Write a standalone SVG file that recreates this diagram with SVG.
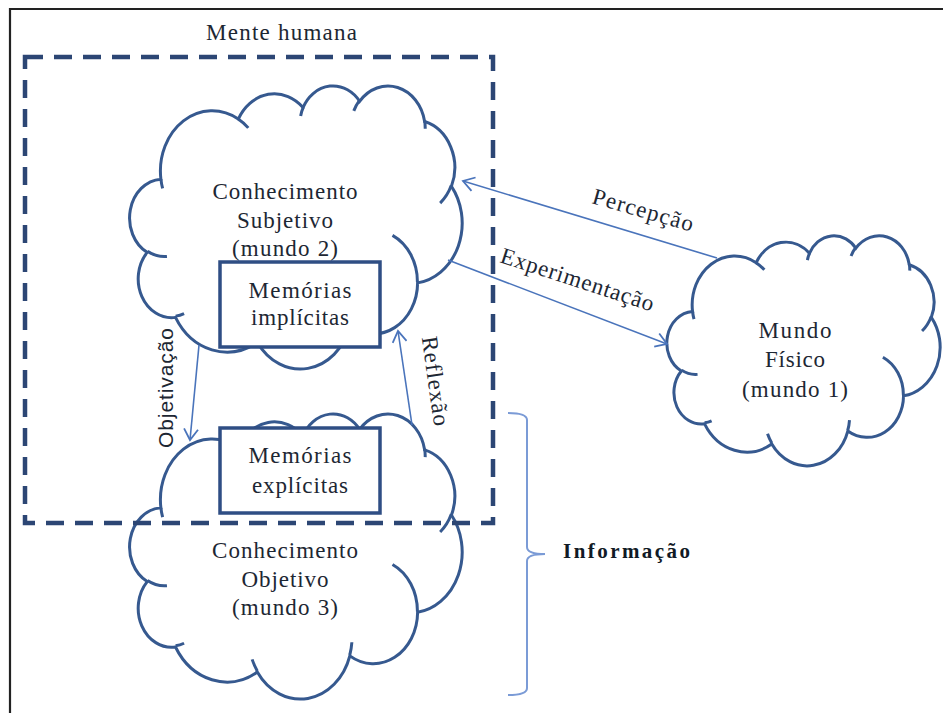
<svg xmlns="http://www.w3.org/2000/svg" xmlns:xlink="http://www.w3.org/1999/xlink" width="943" height="713" viewBox="0 0 943 713">
  <style>
    .frame { fill: none; stroke: #222; stroke-width: 2.2; }
    .mind { fill: none; stroke: #2c4674; stroke-width: 4.5; stroke-dasharray: 18 11; }
    .cloud-body { fill: #ffffff; stroke: #36598f; stroke-width: 3; }
    .cloud-hook { fill: none; stroke: #36598f; stroke-width: 3; }
    .box { fill: #ffffff; stroke: #2f4e84; stroke-width: 3.5; }
    .flow { fill: none; stroke: #4a74bb; stroke-width: 1.6; }
    .brace { fill: none; stroke: #7b9bd6; stroke-width: 2; }
    .t { font-family: "Liberation Serif", "Times New Roman", serif; font-size: 23px; fill: #1d2733; text-anchor: middle; }
    .ts { font-family: "Liberation Sans", Arial, sans-serif; font-size: 21px; fill: #1d2733; text-anchor: middle; }
    .tb { font-family: "Liberation Serif", "Times New Roman", serif; font-size: 21px; font-weight: bold; fill: #111a26; }
  </style>
  <defs>
    <!-- cloud outline in a 43200 x 43200 unit box -->
    <g id="cloud">
      <path class="cloud-body" vector-effect="non-scaling-stroke" d="M3900 14370 A6753 9190 0 0 1 14005 5202 A5333 7267 0 0 1 22460 3435 A4365 5945 0 0 1 29838 2484 A4857 6595 0 0 1 38323 5580 A5333 7273 0 0 1 41823 15464 A6775 9220 0 0 1 37408 30206 A5785 7867 0 0 1 28560 36817 A6752 9215 0 0 1 16485 39268 A7720 10543 0 0 1 5807 35471 A4360 5918 0 0 1 2115 25551 A4345 5945 0 0 1 3900 14370 Z"/>
      <path class="cloud-hook" vector-effect="non-scaling-stroke" d="M4693 26177 A4345 5945 0 0 1 2159 25379 M6928 34899 A4360 5918 0 0 1 5819 35281 M16478 39090 A6752 9215 0 0 1 15810 37348 M28827 34751 A6752 9215 0 0 1 28560 36661 M34129 22954 A5785 7867 0 0 1 37381 30090 M41798 15354 A5333 7273 0 0 1 40350 18030 M38324 5426 A4857 6595 0 0 1 38400 6690 M29078 3952 A4857 6595 0 0 1 29820 2339 M22141 4720 A4365 5945 0 0 1 22500 3331 M14000 5192 A6753 9190 0 0 1 15305 6546 M4127 15789 A6753 9190 0 0 1 3900 14370"/>
    </g>
    <marker id="head" markerUnits="userSpaceOnUse" markerWidth="14" markerHeight="16" viewBox="0 0 14 16" refX="12" refY="8" orient="auto">
      <path d="M1 1 L12 8 L1 15" fill="none" stroke="#4a74bb" stroke-width="1.8"/>
    </marker>
  </defs>

  <rect x="0" y="0" width="943" height="713" fill="#ffffff"/>
  <!-- outer frame (top and left edges) -->
  <path class="frame" d="M10 713 L10 9 L943 9"/>

  <text class="t" x="281.5" y="40" textLength="151">Mente humana</text>

  <g id="subjective">
    <use xlink:href="#cloud" transform="translate(131 85) scale(0.007662 0.0065509)"/>
    <text class="t" x="285" y="199" textLength="145">Conhecimento</text>
    <text class="t" x="285" y="228" textLength="96">Subjetivo</text>
    <text class="t" x="285" y="256" textLength="106">(mundo 2)</text>
  </g>

  <g id="objective">
    <use xlink:href="#cloud" transform="translate(131 413) scale(0.007662 0.0065972)"/>
    <text class="t" x="285" y="558" textLength="146">Conhecimento</text>
    <text class="t" x="285" y="587" textLength="87">Objetivo</text>
    <text class="t" x="285" y="615" textLength="106">(mundo 3)</text>
  </g>

  <g id="physical">
    <use xlink:href="#cloud" transform="translate(668 235) scale(0.0062963 0.0053241)"/>
    <text class="t" x="795" y="338" textLength="73">Mundo</text>
    <text class="t" x="795" y="367" textLength="60">Físico</text>
    <text class="t" x="795" y="397" textLength="106">(mundo 1)</text>
  </g>

  <g id="implicit">
    <rect class="box" x="220" y="262" width="160" height="85"/>
    <text class="t" x="300" y="298" textLength="103">Memórias</text>
    <text class="t" x="300" y="325" textLength="98">implícitas</text>
  </g>

  <g id="explicit">
    <rect class="box" x="220" y="428" width="160" height="85"/>
    <text class="t" x="300" y="463" textLength="103">Memórias</text>
    <text class="t" x="300" y="493" textLength="96">explícitas</text>
  </g>

  <!-- human mind boundary -->
  <g id="mind">
    <rect class="mind" x="25" y="57" width="468" height="466"/>
  </g>

  <g id="information">
    <path class="brace" d="M508 413 Q527 413 527 420 L527 547 Q527 554 545 554 M545 554 Q527 554 527 561 L527 688 Q527 695 508 695"/>
    <text class="tb" x="563" y="558" textLength="127">Informação</text>
  </g>

  <g id="connectors">
    <line class="flow" x1="717" y1="258" x2="463" y2="181" marker-end="url(#head)"/>
    <line class="flow" x1="448" y1="260" x2="667" y2="344" marker-end="url(#head)"/>
    <line class="flow" x1="199" y1="345" x2="190" y2="440" marker-end="url(#head)"/>
    <line class="flow" x1="412" y1="425" x2="398" y2="331" marker-end="url(#head)"/>
    <text class="t" transform="translate(591 203) rotate(16)" x="0" y="0" style="text-anchor:start" textLength="104">Percepção</text>
    <text class="t" transform="translate(499 262) rotate(18)" x="0" y="0" style="text-anchor:start" textLength="160">Experimentação</text>
    <text class="ts" transform="translate(173 388) rotate(-90)" x="0" y="0" textLength="120">Objetivação</text>
    <text class="t" transform="translate(428 382) rotate(82)" x="0" y="0" textLength="90">Reflexão</text>
  </g>
</svg>
